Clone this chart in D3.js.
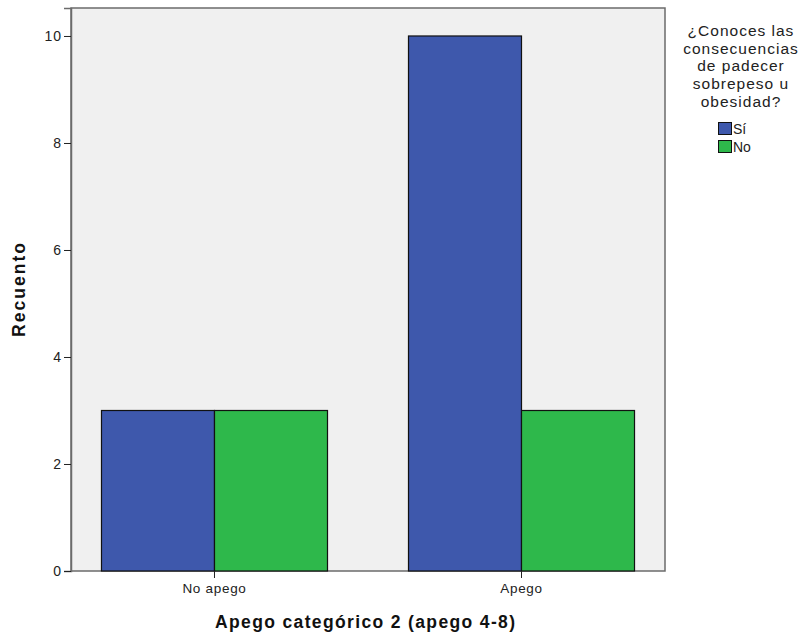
<!DOCTYPE html>
<html><head><meta charset="utf-8">
<script src="https://cdn.jsdelivr.net/npm/d3@7"></script>
<style>body{margin:0;background:#fff;} text{font-family:"Liberation Sans",Arial,sans-serif;}</style>
</head><body>
<svg id="c" width="802" height="635"></svg>
<script>
const categories = ["No apego", "Apego"];
const seriesNames = ["Sí", "No"];
const siValues = [3, 10];
const noValues = [3, 3];
const yTicks = [0, 2, 4, 6, 8, 10];
const colors = ["#3E58AC", "#2EB84B"];
const legendTitle = ["¿Conoces las", "consecuencias", "de padecer", "sobrepeso u", "obesidad?"];

const svg = d3.select("#c");
const L = 71, T = 8, R = 665, B = 571;
const y = d3.scaleLinear().domain([0, 10.523]).range([B, T]);
const x0 = d3.scaleBand().domain(categories).range([L, R]).paddingInner(0.2638).paddingOuter(0.0993);
const x1 = d3.scaleBand().domain(seriesNames).range([0, x0.bandwidth()]);

svg.append("rect").attr("x", L).attr("y", T).attr("width", R - L).attr("height", B - T)
  .attr("fill", "#F0F0F0").attr("stroke", "#6b6b6b").attr("stroke-width", 1.5);

const data = categories.map((c, i) => ({ c, vals: [siValues[i], noValues[i]] }));
const g = svg.append("g");
data.forEach(d => {
  d.vals.forEach((v, j) => {
    g.append("rect")
      .attr("x", x0(d.c) + x1(seriesNames[j]))
      .attr("y", y(v))
      .attr("width", x1.bandwidth())
      .attr("height", y(0) - y(v))
      .attr("fill", colors[j]).attr("stroke", "#111").attr("stroke-width", 1.2);
  });
});

// y axis
const ya = svg.append("g").attr("transform", `translate(${L},0)`)
  .call(d3.axisLeft(y).tickValues(yTicks).tickSize(7).tickPadding(2).tickFormat(d3.format("d")));
ya.select(".domain").attr("stroke", "#6b6b6b").attr("stroke-width", 1.5);
ya.selectAll(".tick line").attr("stroke", "#222");
ya.selectAll("text").attr("font-size", 14).attr("letter-spacing", "1px").attr("fill", "#222").attr("font-family", "Liberation Sans, Arial, sans-serif");

// x axis
const xa = svg.append("g").attr("transform", `translate(0,${B})`)
  .call(d3.axisBottom(x0).tickSize(7).tickPadding(5));
xa.select(".domain").remove();
xa.selectAll(".tick line").attr("stroke", "#222");
xa.selectAll("text").attr("font-size", 13.5).attr("letter-spacing", "0.7px").attr("fill", "#222").attr("font-family", "Liberation Sans, Arial, sans-serif");

svg.append("text").attr("x", 365).attr("y", 628).attr("text-anchor", "middle")
  .attr("font-size", 17.5).attr("font-weight", "bold").attr("fill", "#111")
  .attr("textLength", 300).attr("lengthAdjust", "spacing").text("Apego categórico 2 (apego 4-8)");
svg.append("text").attr("transform", "translate(25,290) rotate(-90)").attr("text-anchor", "middle")
  .attr("font-size", 17.5).attr("font-weight", "bold").attr("fill", "#111")
  .attr("textLength", 94).attr("lengthAdjust", "spacing").text("Recuento");

// legend
const lg = svg.append("g");
legendTitle.forEach((t, i) => {
  lg.append("text").attr("x", 741).attr("y", 36 + i * 17.7).attr("text-anchor", "middle")
    .attr("font-size", 15.5).attr("letter-spacing", "1px").attr("fill", "#222").text(t);
});
seriesNames.forEach((s, i) => {
  lg.append("rect").attr("x", 718.5).attr("y", 122.5 + i * 18).attr("width", 13).attr("height", 12)
    .attr("fill", colors[i]).attr("stroke", "#111").attr("stroke-width", 1);
  lg.append("text").attr("x", 733).attr("y", 134 + i * 18).attr("font-size", 14).attr("fill", "#222").text(s);
});
</script>
</body></html>
